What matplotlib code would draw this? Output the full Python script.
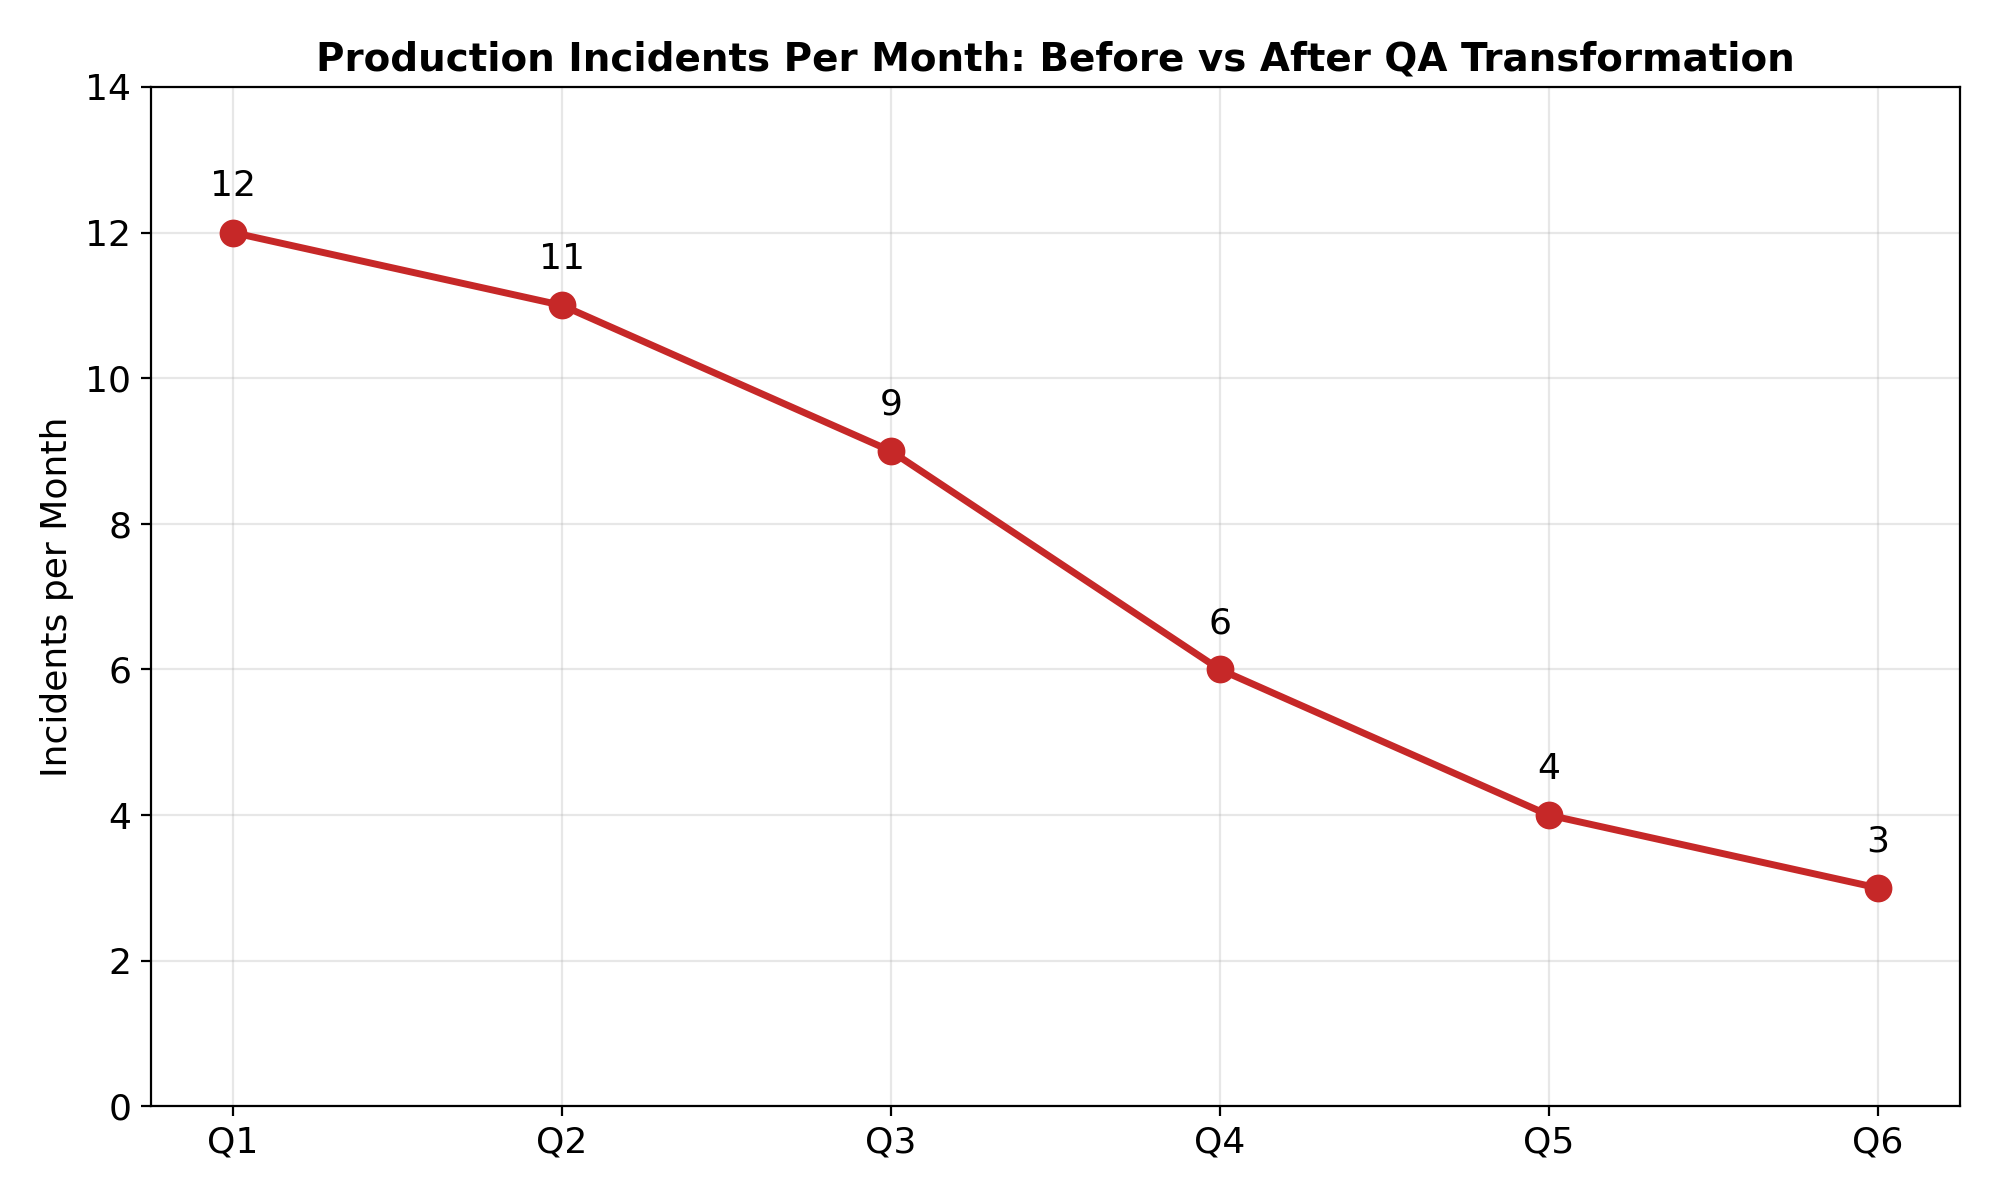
import matplotlib
matplotlib.use("Agg")
import matplotlib.pyplot as plt

quarters = ["Q1", "Q2", "Q3", "Q4", "Q5", "Q6"]
incidents = [12, 11, 9, 6, 4, 3]

fig, ax = plt.subplots(figsize=(10, 6), dpi=200)

ax.plot(quarters, incidents, color="#C62828", linewidth=2.5, marker="o", markersize=9)

# value labels just above each point
for q, v in zip(quarters, incidents):
    ax.text(q, v + 0.5, str(v), ha="center", fontsize=13)

ax.set_ylim(0, 14)
ax.set_ylabel("Incidents per Month", fontsize=13)
ax.set_title("Production Incidents Per Month: Before vs After QA Transformation",
             fontsize=14, fontweight="bold")
ax.tick_params(labelsize=13)
ax.grid(True, alpha=0.3)

plt.tight_layout(pad=1.45)
plt.savefig("out.png", dpi=200)
